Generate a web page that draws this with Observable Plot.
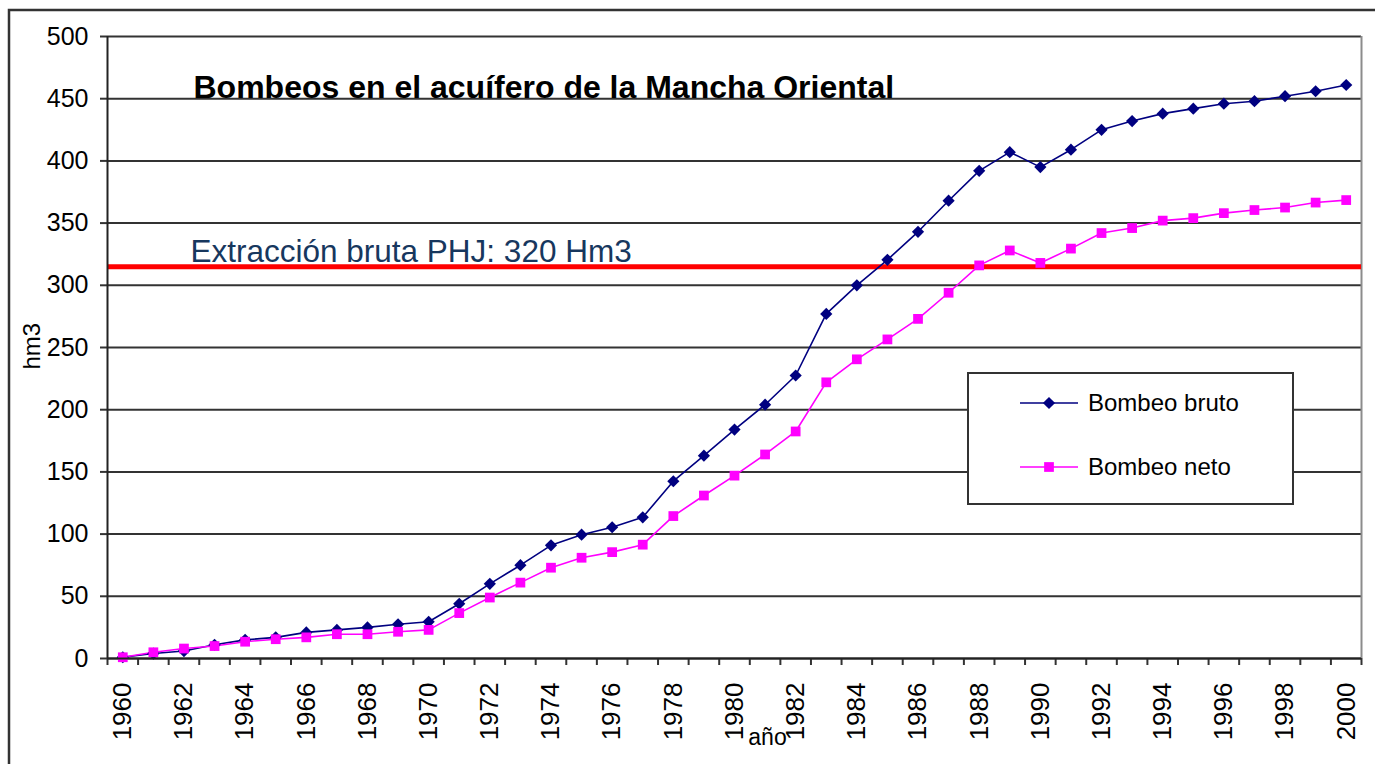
<!DOCTYPE html>
<html>
<head>
<meta charset="utf-8">
<script src="https://cdn.jsdelivr.net/npm/d3@7"></script>
<script src="https://cdn.jsdelivr.net/npm/@observablehq/plot@0.6"></script>
<style>
  html, body { margin: 0; padding: 0; background: #fff; }
  #chart { position: relative; width: 1375px; height: 764px; overflow: hidden; }
</style>
</head>
<body>
<div id="chart"></div>
<script>
const years = [1960,1961,1962,1963,1964,1965,1966,1967,1968,1969,1970,1971,1972,1973,1974,1975,1976,1977,1978,1979,1980,1981,1982,1983,1984,1985,1986,1987,1988,1989,1990,1991,1992,1993,1994,1995,1996,1997,1998,1999,2000];
const bombeoBruto = [1,4,6,11,15,17,21,23,25,27.5,29.5,44,60,75,91,99.5,105.5,113.5,142.5,163,184,204,227.5,277,300,320.5,343,368,392,407,395,409,425,432,438,442,446,448,452,456,461];
const bombeoNeto = [1,5,8,10,13.5,15.5,17,19.5,19.5,21.5,23,36.5,49,61,73,81,85.5,91.5,114.5,131,147,164,182.5,222,240.5,256.5,273,294,316,328,318,329.5,342,346,352,354,358,360.5,362.5,366.5,368.5];
const yTicks = [0,50,100,150,200,250,300,350,400,450,500];
const xTickLabels = [1960,1962,1964,1966,1968,1970,1972,1974,1976,1978,1980,1982,1984,1986,1988,1990,1992,1994,1996,1998,2000];
const refValue = 315;
const refLabel = "Extracción bruta PHJ: 320 Hm3";
const titleText = "Bombeos en el acuífero de la Mancha Oriental";
const seriesNames = ["Bombeo bruto", "Bombeo neto"];
const seriesColors = ["#000080", "#ff00ff"];
const seriesSymbols = ["diamond2", "square"];
const xLabel = "año";
const yLabel = "hm3";

const rows = [];
years.forEach((yr, i) => {
  rows.push({year: yr, value: bombeoBruto[i], serie: seriesNames[0]});
  rows.push({year: yr, value: bombeoNeto[i], serie: seriesNames[1]});
});
const bounds = years.map(y => y - 0.5).concat([years[years.length - 1] + 0.5]);
const FONT = "'Liberation Sans', Arial, sans-serif";

const plot = Plot.plot({
  width: 1375,
  height: 764,
  marginLeft: 107,
  marginRight: 14,
  marginTop: 36,
  marginBottom: 106,
  style: {fontFamily: FONT, background: "#fff", color: "#000"},
  x: {type: "linear", domain: [bounds[0], bounds[bounds.length - 1]]},
  y: {domain: [0, 500]},
  color: {domain: seriesNames, range: seriesColors},
  symbol: {domain: seriesNames, range: seriesSymbols},
  marks: [
    Plot.gridY(yTicks, {stroke: "#333", strokeOpacity: 1, strokeWidth: 2}),
    Plot.ruleX([bounds[bounds.length - 1]], {stroke: "#8c8c8c", strokeWidth: 2}),
    Plot.ruleY([refValue], {stroke: "#ff0000", strokeWidth: 5}),
    Plot.text([refLabel], {x: bounds[0], y: refValue, dx: 83, dy: -5, textAnchor: "start", lineAnchor: "bottom", fill: "#17375e", fontSize: 31.5}),
    Plot.text([titleText], {frameAnchor: "top-left", dx: 86, dy: 51, textAnchor: "start", lineAnchor: "middle", fontWeight: "bold", fontSize: 32, fill: "#000", ariaLabel: "charttitle"}),
    Plot.line(rows, {x: "year", y: "value", z: "serie", stroke: "serie", strokeWidth: 1.6}),
    Plot.dot(rows, {x: "year", y: "value", fill: "serie", symbol: "serie", r: 5.5, stroke: null}),
    Plot.axisY({ticks: yTicks, tickSize: 7, tickPadding: 12, fontSize: 25, tickFormat: d => String(d), label: null, stroke: "#333", strokeWidth: 2}),
    Plot.axisX({ticks: xTickLabels, tickSize: 0, tickPadding: 24, tickRotate: -90, fontSize: 26, tickFormat: d => String(d), label: null}),
    Plot.axisX({ticks: bounds, tickSize: 7, text: null, label: null, stroke: "#333", strokeWidth: 2}),
    Plot.ruleX([bounds[0]], {stroke: "#222", strokeWidth: 2}),
    Plot.ruleY([0], {stroke: "#222", strokeWidth: 2}),
    Plot.text([xLabel], {frameAnchor: "bottom", dx: 33, dy: 86, fontSize: 23, fill: "#000"}),
    Plot.text([yLabel], {frameAnchor: "left", dx: -75, dy: 22, rotate: -90, fontSize: 24, fill: "#000"})
  ]
});

document.getElementById("chart").appendChild(plot);

const svg = d3.select(plot);
// white box behind the title
const tnode = svg.select("g[aria-label='charttitle'] text").node();
if (tnode) {
  const bb = tnode.getBBox();
  const m = tnode.getCTM();
  svg.insert("rect", "g[aria-label='charttitle']")
    .attr("x", bb.x + (m ? m.e : 0) - 4)
    .attr("y", bb.y + (m ? m.f : 0) - 2)
    .attr("width", bb.width + 12)
    .attr("height", bb.height + 6)
    .attr("fill", "#fff");
}

// legend box
const lg = svg.append("g").attr("font-family", FONT).attr("text-anchor", "start");
lg.append("rect").attr("x", 968).attr("y", 373).attr("width", 325).attr("height", 131)
  .attr("fill", "#fff").attr("stroke", "#333").attr("stroke-width", 2);
seriesNames.forEach((name, i) => {
  const cy = 403 + i * 64;
  lg.append("line").attr("x1", 1020).attr("x2", 1078).attr("y1", cy).attr("y2", cy)
    .attr("stroke", seriesColors[i]).attr("stroke-width", 1.6);
  const sym = i === 0 ? d3.symbolDiamond2 : d3.symbolSquare;
  lg.append("path").attr("d", d3.symbol(sym, Math.PI * 5.5 * 5.5)())
    .attr("transform", `translate(1049,${cy})`).attr("fill", seriesColors[i]);
  lg.append("text").attr("x", 1088).attr("y", cy).attr("dy", "0.35em")
    .attr("text-anchor", "start")
    .attr("font-size", 24).attr("fill", "#000").text(name);
});

// outer frame
svg.append("path").attr("d", "M9,764V10H1375").attr("fill", "none").attr("stroke", "#333").attr("stroke-width", 2.5);
</script>
</body>
</html>
